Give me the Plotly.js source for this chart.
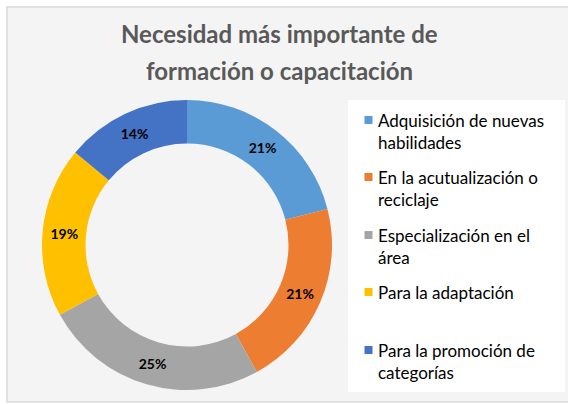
<!DOCTYPE html>
<html><head><meta charset="utf-8">
<script src="https://cdn.plot.ly/plotly-3.0.1.min.js"></script>
<style>html,body{margin:0;padding:0;background:#fff;}#chart{width:568px;height:404px;}</style>
</head><body><div id="chart"></div>
<script>
const categories = [
  "Adquisición de nuevas<br>habilidades",
  "En la acutualización o<br>reciclaje",
  "Especialización en el<br>área",
  "Para la adaptación",
  "Para la promoción de<br>categorías"
];
const values = [21, 21, 25, 19, 14];
const colors = ["#5b9bd5", "#ed7d31", "#a5a5a5", "#ffc000", "#4472c4"];
const titleLines = ["Necesidad más importante de", "formación o capacitación"];

const W = 568, H = 404;
const px = v => v / W, py = v => 1 - v / H;

const trace = {
  type: "pie",
  labels: categories,
  values: values,
  hole: 0.70,
  sort: false,
  direction: "clockwise",
  rotation: 0,
  marker: {colors: colors, line: {width: 0}},
  texttemplate: "%{percent:.0%}",
  textposition: "inside",
  insidetextorientation: "horizontal",
  textfont: {family: "Lato, sans-serif", size: 14, color: "#000", weight: "bold"},
  domain: {x: [px(42), px(332)], y: [py(390), py(100)]},
  hoverinfo: "label+percent",
  showlegend: false
};

const annotations = [];
titleLines.forEach((t, i) => {
  annotations.push({
    xref: "paper", yref: "paper", x: px(279), y: py(34 + i * 37),
    xanchor: "center", yanchor: "middle", showarrow: false, text: t,
    font: {family: "Lato, sans-serif", size: 24, color: "#595959", weight: "bold"}
  });
});
const shapes = [
  {type: "rect", xref: "paper", yref: "paper", x0: px(7), x1: px(570), y0: py(402), y1: py(7),
   fillcolor: "#f4f4f4", line: {color: "#d9d9d9", width: 1.5}, layer: "below"},
  {type: "rect", xref: "paper", yref: "paper", x0: px(348), x1: px(565), y0: py(392), y1: py(100),
   fillcolor: "#ffffff", line: {width: 0}, layer: "below"}
];
const legendRowY = [120, 177, 235, 292, 350];
categories.forEach((c, i) => {
  const yc = legendRowY[i];
  shapes.push({type: "rect", xref: "paper", yref: "paper",
    x0: px(364.5), x1: px(372.5), y0: py(yc + 4), y1: py(yc - 4),
    fillcolor: colors[i], line: {width: 0}});
  annotations.push({
    xref: "paper", yref: "paper", x: px(376), y: py(yc - 12),
    xanchor: "left", yanchor: "top", align: "left", showarrow: false, text: c,
    font: {family: "Lato, sans-serif", size: 17, color: "#000"}
  });
});

const layout = {
  width: W, height: H,
  margin: {l: 0, r: 0, t: 0, b: 0},
  paper_bgcolor: "#ffffff",
  showlegend: false,
  annotations: annotations,
  shapes: shapes
};

Plotly.newPlot("chart", [trace], layout, {displayModeBar: false, staticPlot: true});
</script></body></html>
